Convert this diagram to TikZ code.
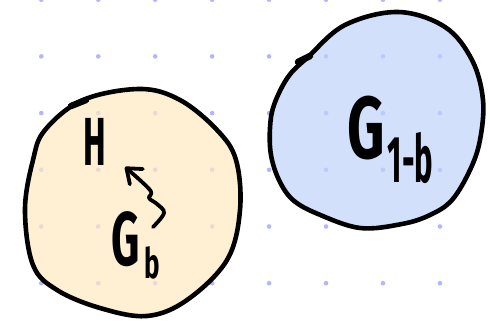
\documentclass[tikz,border=0pt]{standalone}
\usepackage{fontspec}
\setsansfont{Fira Sans}
\usetikzlibrary{arrows.meta}
\definecolor{dotc}{RGB}{180,180,255}
\definecolor{beige}{RGB}{255,234,194}
\definecolor{skyb}{RGB}{191,212,251}
\tikzset{
  blob/.style={draw=black, line width=4.6pt, line join=round, fill opacity=0.7, draw opacity=1},
  hand/.style={font=\sffamily\bfseries, inner sep=0pt, text=black},
  squig/.style={draw=black, line width=3.8pt, line cap=round, line join=round,
    -{Straight Barb[length=13pt, width=20pt, line cap=round, line join=round]}},
  lump/.style={line width=6.5pt, line cap=round}
}
\begin{document}
\begin{tikzpicture}[x=1pt, y=-1pt]
\useasboundingbox (0,0) rectangle (490,321);
\fill[white] (0,0) rectangle (490,321);
% dot grid
\foreach \i in {0,...,7}
  \foreach \j in {0,...,5}
    \fill[dotc] ({41.3+56.95*\i},{-0.3+56.7*\j}) circle (2.3pt);
% left blob
\path[blob, fill=beige] plot[smooth cycle, tension=0.6] coordinates {
  (83,100) (140,89) (180,100) (217,130) (236,160) (240,210) (227,260)
  (187,300) (147,316) (100,308) (57,290) (33,265) (25,210) (33,160) (45,130)};
\draw[lump] (71,106) -- (86,100);
% right blob
\path[blob, fill=skyb] plot[smooth cycle, tension=0.6] coordinates {
  (398,12) (445,27) (472,60) (483,100) (480,140) (470,170) (452,200)
  (430,215) (402,224) (360,228) (318,214) (293,200) (279,180) (271,155)
  (270,128) (274,105) (288,77) (308,57) (345,25)};
\draw[lump] (298,62) -- (310,56);
% labels
\node[hand, anchor=base] (H) at (95,165)
  {\scalebox{0.5}[1]{\fontsize{68}{68}\selectfont H}};
\node[hand, anchor=base west] (Gb) at (111,265)
  {\scalebox{0.58}[1]{\fontsize{76}{76}\selectfont G}\hspace{5pt}\raisebox{-13pt}{\scalebox{0.62}[1]{\fontsize{42}{42}\selectfont b}}};
\node[hand, anchor=base west] (G1b) at (347,158)
  {\scalebox{0.66}[1]{\fontsize{88}{88}\selectfont G}\hspace{3pt}\raisebox{-24pt}{\scalebox{0.47}[1]{\fontsize{66}{66}\selectfont 1-b}}};
% squiggly arrow from G_b to H
\coordinate (s0) at (153,227);
\coordinate (s1) at (164,213);
\coordinate (s2) at (157,204);
\coordinate (s3) at (149,198);
\coordinate (s4) at (150,190);
\coordinate (tip) at (125,167);
\draw[squig] plot[smooth, tension=0.6] coordinates {(s0) (s1) (s2) (s3) (s4) (tip)};
\end{tikzpicture}
\end{document}
